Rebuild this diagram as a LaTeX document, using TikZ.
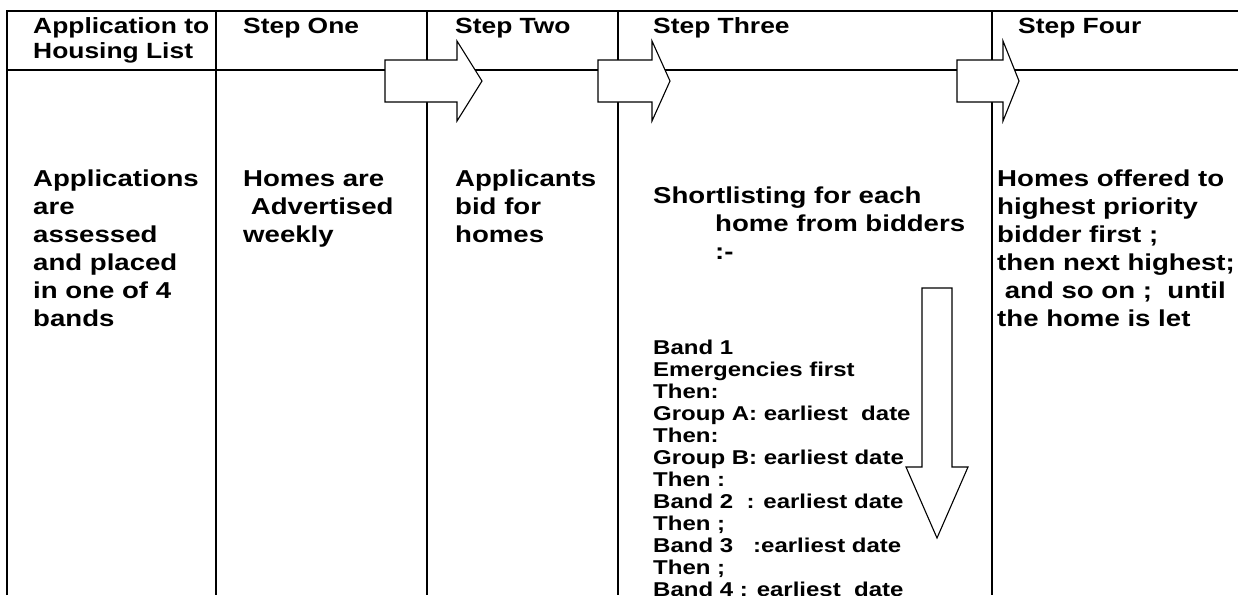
\documentclass[tikz,border=0pt]{standalone}
\usepackage{fontspec}
\newfontfamily\cellfont{Liberation Sans Bold}[FakeStretch=1.2]
\usetikzlibrary{calc}

\tikzset{
  rule/.style={line width=1.8pt},
  blockarrow/.style={draw, line width=1.1pt, fill=white, line join=miter},
  % multi-line cells sit on the baseline of their LAST line
  cell/.style={anchor=base west, inner sep=0pt, align=left,
               font={\cellfont\fontsize{23}{28}\selectfont}},
  headcell/.style={cell, font={\cellfont\fontsize{22}{25}\selectfont}},
  bandlist/.style={cell, font={\cellfont\fontsize{20}{22}\selectfont}},
}

\begin{document}
\begin{tikzpicture}[x=1pt, y=-1pt]
\useasboundingbox (0,0) rectangle (1238,595);

% table rules
\draw[rule] (7,595) -- (7,11) -- (1238,11);
\draw[rule] (7,70) -- (1238,70);
\foreach \x in {216,427,618,992}
  \draw[rule] (\x,11) -- (\x,595);

% block arrows between the columns
\draw[blockarrow] (385,60) -- (457,60) -- (457,41) -- (482,81)
  -- (457,121) -- (457,102) -- (385,102) -- cycle;
\draw[blockarrow] (598,60) -- (652,60) -- (652,41) -- (670,81)
  -- (652,121) -- (652,102) -- (598,102) -- cycle;
\draw[blockarrow] (957,60) -- (1003,60) -- (1003,41) -- (1019,81)
  -- (1003,121) -- (1003,102) -- (957,102) -- cycle;

% down arrow beside the shortlist
\draw[blockarrow] (922,288) -- (952,288) -- (952,467) -- (968,467)
  -- (937,538) -- (906,467) -- (922,467) -- cycle;

% headings
\node[headcell] (apply) at (33,58)   {Application to\\Housing List};
\node[headcell] (step1) at (243,33)  {Step One};
\node[headcell] (step2) at (455,33)  {Step Two};
\node[headcell] (step3) at (653,33)  {Step Three};
\node[headcell] (step4) at (1018,33) {Step Four};

% column texts
\node[cell] (assess) at (33,326)
  {Applications\\are\\assessed\\and placed\\in one of 4\\bands};
\node[cell] (advert) at (243,242) {Homes are\\\ Advertised\\weekly};
\node[cell] (bid)    at (455,242) {Applicants\\bid for\\homes};
\node[cell] (short)  at (653,259)
  {Shortlisting for each\\\hspace*{62pt}home from bidders\\\hspace*{62pt}:-};
\node[bandlist] (order) at (653,596)
  {Band 1\\Emergencies first\\Then:\\Group A: earliest\ \ date\\Then:\\%
   Group B: earliest date\\Then :\\Band 2\ \ : earliest date\\Then ;\\%
   Band 3\ \ \ :earliest date\\Then ;\\Band 4 : earliest\ \ date};
\node[cell] (offer)  at (997,326)
  {Homes offered to\\highest priority\\bidder first ;\\then next highest;\\%
   \ and so on ;\ \ until\\the home is let};
\end{tikzpicture}
\end{document}
